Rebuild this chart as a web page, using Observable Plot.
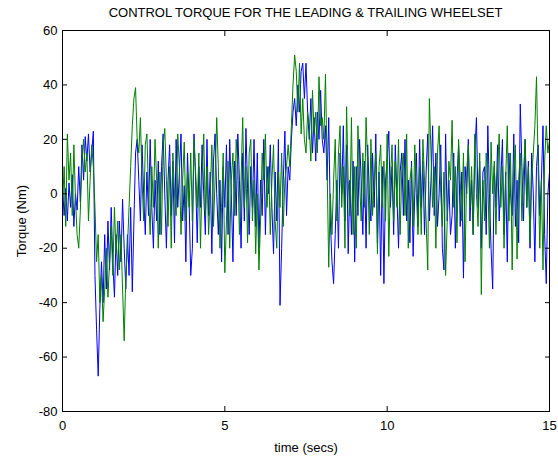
<!DOCTYPE html>
<html>
<head>
<meta charset="utf-8">
<script src="https://cdn.jsdelivr.net/npm/d3@7"></script>
<script src="https://cdn.jsdelivr.net/npm/@observablehq/plot@0.6"></script>
<style>
  html, body { margin: 0; padding: 0; background: #fff; }
  #chart { width: 558px; font-family: "Liberation Sans", Arial, sans-serif; }
  .title { height: 22px; line-height: 22px; padding-left: 62px; width: 487px; text-align: center; font-size: 13px; color: #000; padding-top: 2px; }
</style>
</head>
<body>
<div id="chart">
  <div class="title">CONTROL TORQUE FOR THE LEADING &amp; TRAILING WHEELSET</div>
</div>
<script>
// Sampling interval of the recorded control torques (s)
const sampleStep = 0.05;

// Leading wheelset control torque (Nm), one row per second
const leadingTorque = [
  3, -8, 2, -10, 4, -5, 7, -12, 0, -6, 10, -3, 18, 5, 21, 12, 22, 8, 15, 23,
  -30, -50, -67, -42, -25, -40, -15, -35, -10, -28, -5, -25, -38, -15, -30, -10, -25, -2, -20, -35,
  -15, -30, -5, -36, -10, 15, 20, 5, -10, 18, 0, -15, 8, -8, 20, -5, -20, 5, -10, 12,
  -15, 10, 22, 0, -20, 5, 18, -8, 12, -18, 20, -5, 8, 22, -10, 3, -25, 15, -3, -30,
  -20, 22, 5, -18, 10, -5, 18, 0, -15, 20, -8, 8, -22, 12, 22, 0, -15, 5, -25, 10,
  -5, 18, -15, 20, 0, -25, 12, -8, 22, 5, -20, 15, -10, 24, 2, -15, 10, -5, 20, -12,
  15, -20, 5, -8, 20, -15, 10, 0, 18, -5, -22, 8, -10, 20, -41, -20, 5, 23, -8, 10,
  5, 20, 30, 35, 25, 40, 30, 45, 48, 35, 48, 30, 20, 35, 15, 28, 12, 30, 20, 38,
  20, 15, 25, 5, 28, -10, -25, -33, -15, 5, -20, 15, 0, 25, -10, 18, -22, 5, -15, 12,
  -25, 10, -8, 20, 5, -15, 12, -20, 18, 0, -10, 15, -5, 22, -18, 8, -30, 10, -33, 5,
  12, 23, -5, 10, -15, 18, 0, -20, 8, 15, -8, 20, -10, 5, -18, 12, -23, 0, 15, -12,
  20, -5, 12, -15, 8, 22, -10, 5, 25, -8, 15, -12, 0, 18, -20, -28, 22, -10, 5, -15,
  -8, 15, -20, 5, 18, -12, 8, -31, 10, 0, 20, -10, 5, -15, 15, 28, -5, 12, -20, 8,
  10, -15, 25, 0, -20, -35, 10, -5, 18, -10, 5, 20, -15, 8, -25, 15, 0, -8, 22, -12,
  5, -18, 33, 10, -10, 20, -5, 12, -20, 15, 0, -25, 10, 18, -8, 5, 25, -15, -33, 0, 8
];

// Trailing wheelset control torque (Nm), one row per second
const trailingTorque = [
  -5, 10, -12, 22, 5, 15, -8, 18, -2, -15, -20, -6, 12, 20, 8, 15, -10, 5, 18, 10,
  -5, -25, -15, -40, -30, -47, -35, -20, -38, -25, -12, -30, -5, -22, -10, -28, -15, -35, -54, -30,
  -20, -5, 10, 25, 35, 39, 20, 15, 28, 5, -10, 18, 22, 0, -15, 10, -5, 20, 5, -20,
  8, -15, 18, 24, 5, -12, 10, -20, 15, 0, -8, 22, 10, -15, 5, 19, -10, 8, -5, 15,
  -10, 20, 8, -5, 15, -20, 5, 22, -8, 10, -15, 0, 18, -12, 5, 28, 10, -20, -5, 15,
  -29, -10, 12, -20, 5, 15, -8, 20, 10, -15, 5, 28, -5, 10, -18, 15, 20, -10, 5, -22,
  0, -28, -10, 15, 5, 22, -5, 10, -15, 5, 18, -10, -20, 8, -5, 15, -12, 5, 10, 18,
  10, 25, 40, 51, 45, 30, 48, 22, 35, 20, 15, 30, 25, 12, 38, 22, 30, 15, 43, 25,
  28, 20, 44, 10, -27, 0, -15, 5, 20, -10, 15, 25, -5, 10, -20, 32, 5, -8, 28, -15,
  10, -20, 25, 5, -10, 15, -5, 28, 10, -15, 20, -8, 5, 15, -22, 10, 18, -5, 12, -10,
  22, -23, 5, 18, -10, 12, -5, 20, -15, 8, 15, -8, 22, -20, 5, 10, -12, 18, 0, -15,
  10, -15, 20, 5, -10, -28, 35, 15, -5, 10, -20, 15, 25, 0, -12, 8, -30, -10, 12, 5,
  27, -5, 10, -18, 20, 5, -10, 15, -25, 8, 18, -5, 10, -15, 22, 0, -12, 15, -37, 5,
  -10, 15, 5, -20, 19, 0, 12, -15, 8, 22, -5, 10, -20, 5, 25, -10, 15, -28, 8, 18,
  -24, 5, 15, -10, 8, 20, -5, 10, -18, 5, 15, 25, 43, 10, -20, 5, -28, 12, 25, 15, 20
];

// Axis ticks
const xTicks = [0, 5, 10, 15];
const yTicks = [60, 40, 20, 0, -20, -40, -60, -80];

const toRows = (values) => values.map((v, i) => ({t: i * sampleStep, torque: v}));
const leading = toRows(leadingTorque);
const trailing = toRows(trailingTorque);

const fmt = (d) => String(d);

const chart = Plot.plot({
  width: 558,
  height: 435,
  marginTop: 6,
  marginLeft: 62,
  marginRight: 9,
  marginBottom: 48,
  style: {fontFamily: "Liberation Sans, Arial, sans-serif", fontSize: "13px", color: "#000", background: "#fff"},
  x: {domain: [0, 15]},
  y: {domain: [-80, 60]},
  marks: [
    Plot.lineY(leading, {x: "t", y: "torque", stroke: "#0000ff", strokeWidth: 1}),
    Plot.lineY(trailing, {x: "t", y: "torque", stroke: "#008000", strokeWidth: 1}),
    Plot.frame({stroke: "#000", strokeWidth: 1}),
    Plot.axisX(xTicks, {anchor: "bottom", tickSize: -5, tickPadding: 14, tickFormat: fmt,
      label: "time (secs)", labelAnchor: "center", labelArrow: "none", labelOffset: 40}),
    Plot.axisX(xTicks, {anchor: "top", tickSize: -5, tickFormat: () => "", label: null}),
    Plot.axisY(yTicks, {anchor: "left", tickSize: -5, tickPadding: 10, tickFormat: fmt,
      label: "Torque (Nm)", labelAnchor: "center", labelArrow: "none", labelOffset: 46}),
    Plot.axisY(yTicks, {anchor: "right", tickSize: -5, tickFormat: () => "", label: null})
  ]
});

document.getElementById("chart").appendChild(chart);
</script>
</body>
</html>
